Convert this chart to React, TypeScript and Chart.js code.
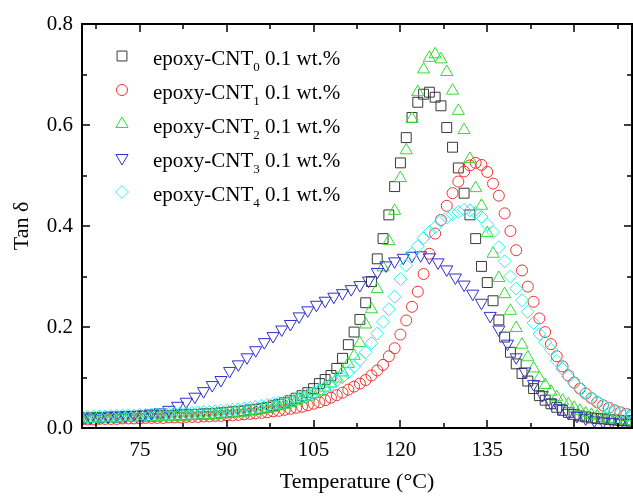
import React, { useEffect, useRef } from 'react';
import { Chart, registerables } from 'chart.js';
import { drawPoint } from 'chart.js/helpers';

Chart.register(...registerables);

// ---------------- data ----------------
const tempsA = [
  65, 66, 67, 68, 69, 70, 71, 72, 73, 74,
  75, 76, 77, 78, 79, 80, 81, 82, 83, 84,
  85, 86, 87, 88, 89, 90, 91, 92, 93, 94,
  95, 96, 97, 98, 99, 100, 101, 102, 103, 104,
  105, 106, 107, 108, 109, 110, 111, 112, 113, 114,
  115, 116, 117, 118, 119, 120, 121, 122, 123, 124,
  125, 126, 127, 128, 129, 130, 131, 132, 133, 134,
  135, 136, 137, 138, 139, 140, 141, 142, 143, 144,
  145, 146, 147, 148, 149, 150, 151, 152, 153, 154,
  155, 156, 157, 158, 159, 160,
];

const tempsB = [
  65, 66.5, 68, 69.5, 71, 72.5, 74, 75.5, 77, 78.5,
  80, 81.5, 83, 84.5, 86, 87.5, 89, 90.5, 92, 93.5,
  95, 96.5, 98, 99.5, 101, 102.5, 104, 105.5, 107, 108.5,
  110, 111.5, 113, 114.5, 116, 117.5, 119, 120.5, 122, 123.5,
  125, 126.5, 128, 129.5, 131, 132.5, 134, 135.5, 137, 138.5,
  140, 141.5, 143, 144.5, 146, 147.5, 149, 150.5, 152, 153.5,
  155, 156.5, 158, 159.5,
];

const cnt0 = [
  0.020, 0.020, 0.021, 0.021, 0.021, 0.022, 0.022, 0.022, 0.023, 0.023,
  0.023, 0.024, 0.024, 0.024, 0.025, 0.025, 0.025, 0.026, 0.026, 0.027,
  0.027, 0.028, 0.028, 0.029, 0.030, 0.031, 0.032, 0.033, 0.034, 0.036,
  0.037, 0.039, 0.041, 0.044, 0.047, 0.050, 0.054, 0.059, 0.064, 0.070,
  0.078, 0.088, 0.096, 0.104, 0.118, 0.138, 0.165, 0.190, 0.215, 0.248,
  0.290, 0.335, 0.375, 0.422, 0.478, 0.525, 0.575, 0.615, 0.645, 0.661,
  0.665, 0.655, 0.638, 0.595, 0.556, 0.515, 0.465, 0.422, 0.375, 0.320,
  0.288, 0.252, 0.214, 0.180, 0.150, 0.127, 0.108, 0.093, 0.078, 0.064,
  0.055, 0.048, 0.041, 0.035, 0.031, 0.027, 0.024, 0.022, 0.020, 0.019,
  0.018, 0.017, 0.016, 0.015, 0.014, 0.014,
];

const cnt1 = [
  0.017, 0.017, 0.017, 0.018, 0.018, 0.018, 0.018, 0.019, 0.019, 0.019,
  0.019, 0.020, 0.020, 0.020, 0.020, 0.021, 0.021, 0.021, 0.022, 0.022,
  0.022, 0.023, 0.023, 0.024, 0.024, 0.025, 0.025, 0.026, 0.027, 0.028,
  0.029, 0.030, 0.031, 0.033, 0.034, 0.036, 0.038, 0.040, 0.042, 0.045,
  0.048, 0.051, 0.055, 0.060, 0.065, 0.070, 0.076, 0.082, 0.088, 0.095,
  0.104, 0.114, 0.125, 0.142, 0.158, 0.185, 0.213, 0.240, 0.270, 0.305,
  0.345, 0.385, 0.412, 0.440, 0.465, 0.488, 0.508, 0.520, 0.525, 0.521,
  0.507, 0.484, 0.460, 0.425, 0.390, 0.352, 0.312, 0.280, 0.250, 0.217,
  0.190, 0.166, 0.142, 0.122, 0.104, 0.090, 0.078, 0.068, 0.059, 0.051,
  0.045, 0.040, 0.035, 0.031, 0.028, 0.026,
];

const cnt2 = [
  0.018, 0.018, 0.018, 0.019, 0.019, 0.019, 0.019, 0.020, 0.020, 0.020,
  0.020, 0.021, 0.021, 0.021, 0.022, 0.022, 0.022, 0.023, 0.023, 0.024,
  0.024, 0.025, 0.025, 0.026, 0.027, 0.028, 0.029, 0.030, 0.031, 0.033,
  0.034, 0.036, 0.038, 0.040, 0.043, 0.046, 0.049, 0.053, 0.057, 0.062,
  0.067, 0.073, 0.080, 0.088, 0.098, 0.110, 0.127, 0.143, 0.168, 0.205,
  0.235, 0.275, 0.318, 0.370, 0.430, 0.495, 0.550, 0.612, 0.665, 0.710,
  0.733, 0.740, 0.730, 0.705, 0.668, 0.628, 0.590, 0.533, 0.475, 0.440,
  0.386, 0.345, 0.297, 0.265, 0.232, 0.198, 0.165, 0.140, 0.118, 0.099,
  0.085, 0.072, 0.061, 0.054, 0.047, 0.040, 0.034, 0.029, 0.026, 0.023,
  0.020, 0.018, 0.016, 0.015, 0.014, 0.013,
];

const cnt3 = [
  0.020, 0.021, 0.022, 0.023, 0.024, 0.025, 0.026, 0.027, 0.029, 0.031,
  0.036, 0.044, 0.052, 0.062, 0.073, 0.085, 0.095, 0.113, 0.126, 0.140,
  0.154, 0.170, 0.182, 0.195, 0.206, 0.221, 0.233, 0.244, 0.252, 0.260,
  0.267, 0.275, 0.283, 0.292, 0.309, 0.322, 0.330, 0.337, 0.341, 0.342,
  0.338, 0.328, 0.314, 0.298, 0.284, 0.266, 0.248, 0.222, 0.195, 0.167,
  0.140, 0.112, 0.087, 0.065, 0.050, 0.039, 0.030, 0.024, 0.019, 0.015,
  0.013, 0.012, 0.011, 0.010,
];

const cnt4 = [
  0.022, 0.022, 0.023, 0.023, 0.023, 0.024, 0.024, 0.025, 0.025, 0.025,
  0.026, 0.026, 0.027, 0.027, 0.028, 0.028, 0.029, 0.029, 0.030, 0.030,
  0.031, 0.032, 0.032, 0.033, 0.034, 0.035, 0.036, 0.037, 0.039, 0.040,
  0.042, 0.044, 0.046, 0.048, 0.050, 0.052, 0.055, 0.058, 0.062, 0.066,
  0.070, 0.075, 0.081, 0.087, 0.094, 0.101, 0.110, 0.121, 0.135, 0.150,
  0.168, 0.187, 0.210, 0.235, 0.260, 0.295, 0.322, 0.345, 0.360, 0.376,
  0.388, 0.398, 0.410, 0.417, 0.423, 0.428, 0.432, 0.431, 0.426, 0.418,
  0.403, 0.388, 0.358, 0.330, 0.300, 0.276, 0.253, 0.230, 0.208, 0.186,
  0.170, 0.155, 0.133, 0.117, 0.102, 0.089, 0.078, 0.069, 0.060, 0.052,
  0.045, 0.039, 0.034, 0.030, 0.027, 0.025,
];

const xTicks = [75, 90, 105, 120, 135, 150];
const yTicks = [0, 0.2, 0.4, 0.6, 0.8];
const xMinorTicks = [67.5, 82.5, 97.5, 112.5, 127.5, 142.5, 157.5];
const yMinorTicks = [0.1, 0.3, 0.5, 0.7];

const seriesSubscripts = ['0', '1', '2', '3', '4'];
const seriesColors = ['#383838', '#f03030', '#30dd30', '#3030cc', '#30eeee'];
const seriesStyles = ['rect', 'circle', 'triangle', 'triangle', 'rectRot'];
const seriesRotations = [0, 0, 0, 180, 0];
const seriesRadius = [7, 5.5, 7, 7, 6.5];

const FONT = '"Liberation Serif", "Times New Roman", serif';

const toPts = (xs: number[], ys: number[]) => ys.map((v, i) => ({ x: xs[i], y: v }));

const framePlugin = {
  id: 'frameTicks',
  afterDatasetsDraw(chart: any) {
    const { ctx, chartArea } = chart;
    const { left, right, top, bottom } = chartArea;
    const xs = chart.scales.x;
    const ys = chart.scales.y;
    ctx.save();
    ctx.strokeStyle = '#000';
    ctx.lineWidth = 1.5;
    ctx.beginPath();
    const major = 8;
    const minor = 5;
    xTicks.forEach((v) => {
      const px = Math.round(xs.getPixelForValue(v));
      ctx.moveTo(px, bottom); ctx.lineTo(px, bottom - major);
      ctx.moveTo(px, top); ctx.lineTo(px, top + major);
    });
    xMinorTicks.forEach((v) => {
      const px = Math.round(xs.getPixelForValue(v));
      ctx.moveTo(px, bottom); ctx.lineTo(px, bottom - minor);
      ctx.moveTo(px, top); ctx.lineTo(px, top + minor);
    });
    yTicks.forEach((v) => {
      const py = Math.round(ys.getPixelForValue(v));
      ctx.moveTo(left, py); ctx.lineTo(left + major, py);
      ctx.moveTo(right, py); ctx.lineTo(right - major, py);
    });
    yMinorTicks.forEach((v) => {
      const py = Math.round(ys.getPixelForValue(v));
      ctx.moveTo(left, py); ctx.lineTo(left + minor, py);
      ctx.moveTo(right, py); ctx.lineTo(right - minor, py);
    });
    ctx.stroke();
    ctx.lineWidth = 2;
    ctx.strokeRect(left, top, right - left, bottom - top);
    ctx.restore();
  },
};

const legendPlugin = {
  id: 'innerLegend',
  afterDraw(chart: any) {
    const { ctx } = chart;
    ctx.save();
    const markerX = 122;
    const textX = 153;
    const firstY = 56;
    const step = 34;
    chart.data.datasets.forEach((ds: any, i: number) => {
      const cy = firstY + step * i;
      ctx.strokeStyle = ds.borderColor;
      ctx.fillStyle = 'rgba(0,0,0,0)';
      ctx.lineWidth = 1;
      drawPoint(ctx, {
        pointStyle: ds.pointStyle,
        rotation: ds.pointRotation || 0,
        radius: ds.pointRadius,
        borderWidth: 1,
      } as any, markerX, cy);
      const base = cy + 8.5;
      ctx.fillStyle = '#000';
      ctx.textBaseline = 'alphabetic';
      ctx.textAlign = 'left';
      let x = textX;
      ctx.font = `21px ${FONT}`;
      ctx.fillText('epoxy-CNT', x, base);
      x += ctx.measureText('epoxy-CNT').width;
      ctx.font = `13px ${FONT}`;
      ctx.fillText(seriesSubscripts[i], x, base + 6);
      x += ctx.measureText(seriesSubscripts[i]).width;
      ctx.font = `21px ${FONT}`;
      ctx.fillText(' 0.1 wt.%', x, base);
    });
    ctx.restore();
  },
};

export default function App() {
  const ref = useRef<HTMLCanvasElement | null>(null);

  useEffect(() => {
    if (!ref.current) return;
    const allData = [toPts(tempsA, cnt0), toPts(tempsA, cnt1), toPts(tempsA, cnt2), toPts(tempsB, cnt3), toPts(tempsA, cnt4)];
    const datasets = allData.map((d, i) => ({
      label: `epoxy-CNT${seriesSubscripts[i]} 0.1 wt.%`,
      data: d,
      showLine: false,
      borderColor: seriesColors[i],
      backgroundColor: 'rgba(0,0,0,0)',
      pointBorderColor: seriesColors[i],
      pointBackgroundColor: 'rgba(0,0,0,0)',
      pointBorderWidth: 1,
      pointRadius: seriesRadius[i],
      pointStyle: seriesStyles[i],
      pointRotation: seriesRotations[i],
      order: 4 - i,
    }));
    const chart = new Chart(ref.current, {
      type: 'scatter',
      data: { datasets } as any,
      plugins: [framePlugin, legendPlugin],
      options: {
        animation: false,
        responsive: true,
        maintainAspectRatio: false,
        events: [],
        layout: { padding: { top: 24, right: 6, left: 0, bottom: 0 } },
        plugins: { legend: { display: false }, tooltip: { enabled: false } },
        scales: {
          x: {
            type: 'linear',
            min: 65,
            max: 160,
            grid: { display: false, drawTicks: false },
            border: { display: false },
            afterBuildTicks: (axis: any) => { axis.ticks = xTicks.map((v) => ({ value: v })); },
            afterFit: (axis: any) => { axis.height = 68; },
            ticks: {
              color: '#000',
              padding: 10,
              font: { family: FONT, size: 21 },
              callback: (v: any) => String(v),
            },
            title: {
              display: true,
              text: 'Temperature (°C)',
              color: '#000',
              font: { family: FONT, size: 22 },
              padding: { top: 0, bottom: 1 },
            },
          },
          y: {
            type: 'linear',
            min: 0,
            max: 0.8,
            grid: { display: false, drawTicks: false },
            border: { display: false },
            afterBuildTicks: (axis: any) => { axis.ticks = yTicks.map((v) => ({ value: v })); },
            afterFit: (axis: any) => { axis.width = 82; },
            ticks: {
              color: '#000',
              padding: 9,
              font: { family: FONT, size: 21 },
              callback: (v: any) => Number(v).toFixed(1),
            },
            title: {
              display: true,
              text: 'Tan δ',
              color: '#000',
              font: { family: FONT, size: 22 },
              padding: { top: 9, bottom: 0 },
            },
          },
        },
      } as any,
    });
    return () => chart.destroy();
  }, []);

  return (
    <div style={{ position: 'fixed', left: 0, top: 0, width: 633, height: 496, overflow: 'hidden', background: '#fff' }}>
      <div style={{ position: 'relative', width: 640, height: 496 }}>
        <canvas ref={ref} />
      </div>
    </div>
  );
}
